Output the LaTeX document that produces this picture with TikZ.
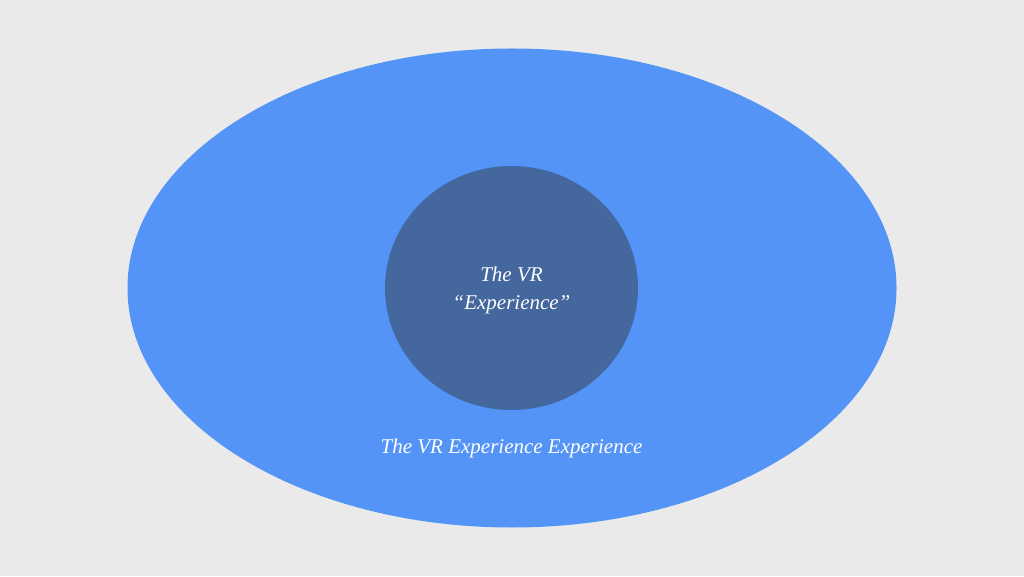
\documentclass[tikz,border=0pt]{standalone}
\usepackage{fontspec}
\setmainfont{Liberation Serif}
\usepackage{tikz}
\usetikzlibrary{shapes.geometric}
\definecolor{bggray}{HTML}{EAEAEA}
\definecolor{outerblue}{HTML}{5494F6}
\definecolor{innerblue}{HTML}{44679E}
\tikzset{
	blob/.style={ellipse, inner sep=0pt, draw=none},
	label text/.style={text=white, font=\fontsize{21}{28}\selectfont\itshape, align=center}
}

\begin{document}
\begin{tikzpicture}[x=1pt,y=1pt]
		\fill[bggray](0,0) rectangle (1024,576);
		\useasboundingbox (0,0) rectangle (1024,576);
		\node[blob, fill=outerblue, minimum width=769, minimum height=479] (world) at (512,288) {};
		\node[blob, fill=innerblue, minimum width=253, minimum height=244] (core) at (511.5,288) {};
		\node[label text] (corelabel) at (511.5,286) {The VR\\``Experience''};
		\node[label text] (worldlabel) at (511.5,128) {The VR Experience Experience};
	\end{tikzpicture}
\end{document}
